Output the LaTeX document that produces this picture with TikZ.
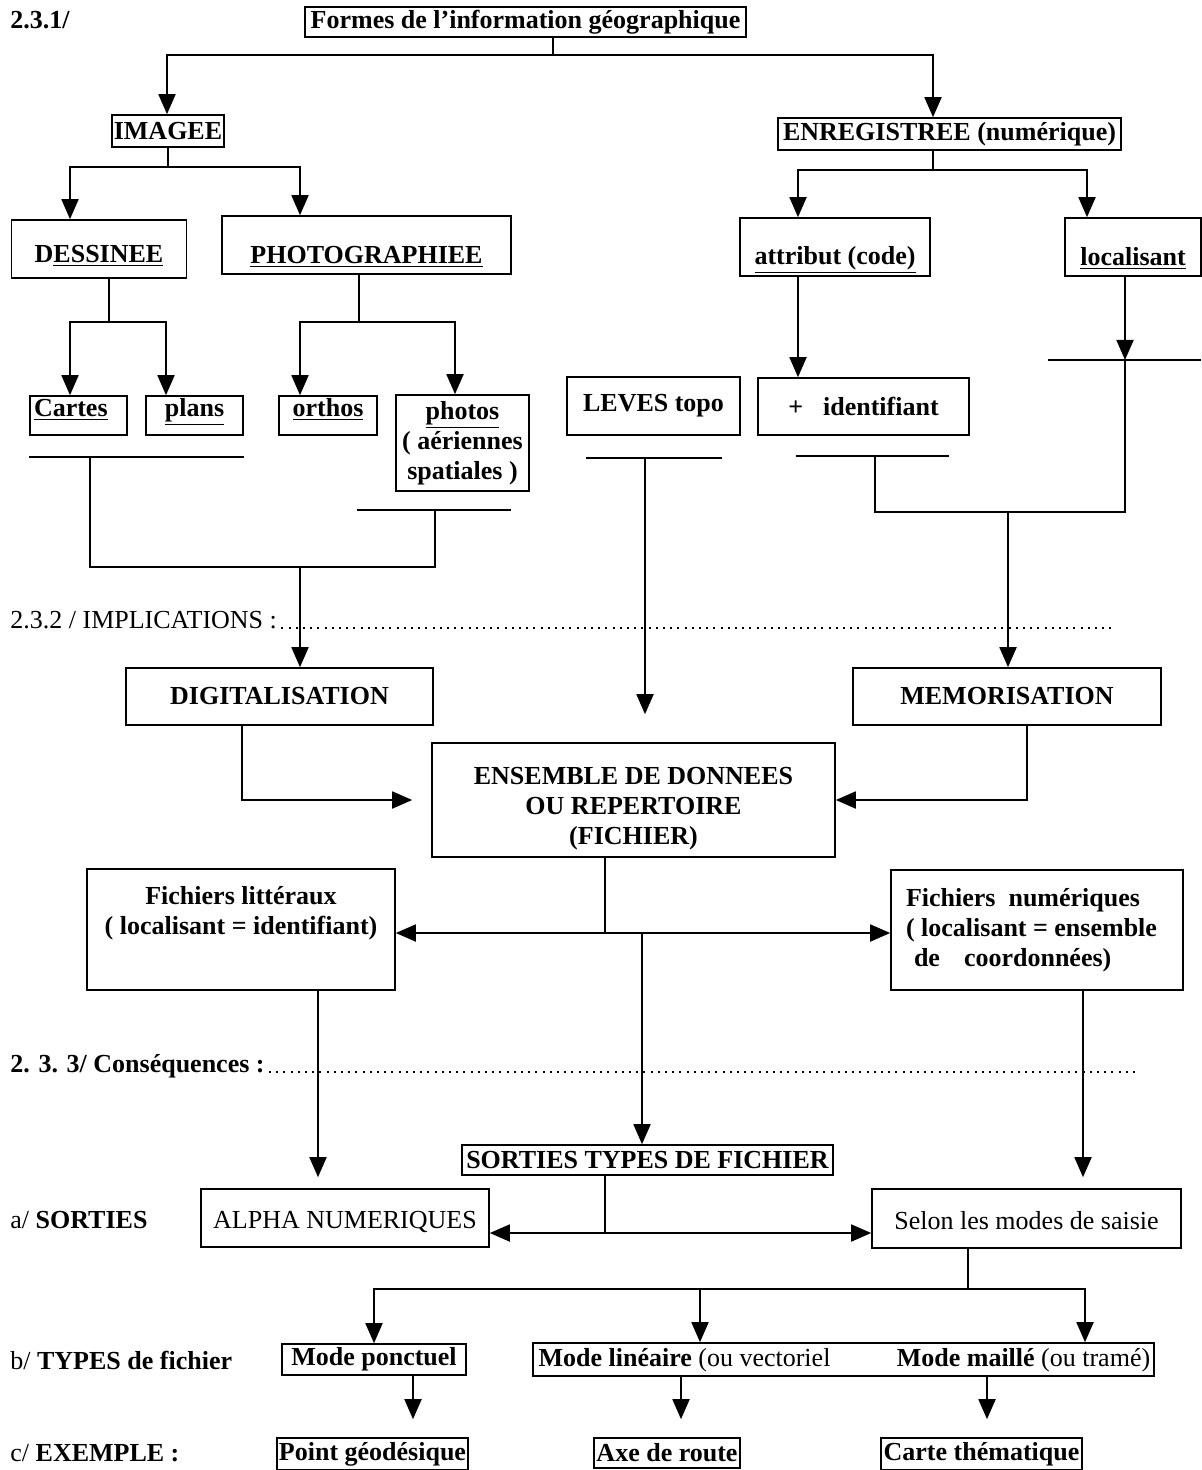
\documentclass[tikz,border=0pt]{standalone}
\usepackage{fontspec}
\setmainfont{Liberation Serif}
\usetikzlibrary{arrows.meta}
\newcommand{\bigfont}{\fontsize{13pt}{15pt}\selectfont}

\begin{document}
\begin{tikzpicture}[x=0.5pt, y=-0.5pt,
    box/.style={rectangle, draw, line width=0.8pt, inner sep=0pt, align=center, font=\bigfont\bfseries},
    plainbox/.style={rectangle, draw, line width=0.8pt, inner sep=0pt, align=center, font=\bigfont},
    topbox/.style={text height=10pt, text depth=9.5pt},
    sect/.style={inner sep=0pt, font=\bigfont},
    arr/.style={-{Triangle[length=10pt, width=8.5pt]}, line width=0.9pt},
    link/.style={line width=0.9pt},
    leader/.style={line width=1pt, dash pattern=on 1pt off 2.6pt}
]
    \useasboundingbox (0,0) rectangle (1201,1470);

    \node[sect, anchor=west] (n231) at (10,20) {\bfseries 2.3.1/};
    \node[box, minimum width=220.5pt, minimum height=15pt] (forms) at (525.5,22) {Formes de l'information géographique};
    \node[box, minimum width=56pt, minimum height=16pt] (imagee) at (168,131) {IMAGEE};
    \node[box, minimum width=171.5pt, minimum height=16pt] (enreg) at (949.5,134) {ENREGISTREE (numérique)};
    \node[box, minimum width=87.5pt, text height=21.25pt, text depth=7.75pt] (dess) at (99,249) {D\underline{ESSINEE}};
    \node[box, minimum width=144.5pt, text height=23.75pt, text depth=5.25pt] (photo) at (366.5,245) {\underline{PHOTOGRAPHIEE}};
    \node[box, minimum width=95pt, text height=23.25pt, text depth=5.75pt] (attr) at (835,247) {\underline{attribut (code)}};
    \node[box, minimum width=68pt, text height=23.75pt, text depth=5.25pt] (loc) at (1133,247) {\underline{localisant}};

    \node[box, topbox, text width=44.5pt, inner xsep=2pt, align=left] (cartes) at (78.5,415.5) {\underline{Cartes}};
    \node[box, topbox, minimum width=48.5pt] (plans) at (194.5,415.5) {\underline{plans}};
    \node[box, topbox, minimum width=49pt] (orthos) at (328,415.5) {\underline{orthos}};
    \node[box, minimum width=66.5pt, minimum height=48pt] (photos) at (462.5,443) {\underline{photos}\\( aériennes\\spatiales )};
    \node[box, minimum width=86.5pt, minimum height=29pt] (leves) at (653.5,406) {LEVES topo};
    \node[box, minimum width=105.5pt, minimum height=28.5pt] (ident) at (863.5,406.5) {+\hspace{10pt}identifiant};

    \node[sect, anchor=west] (impl) at (10,620) {2.3.2 / IMPLICATIONS :};
    \node[box, minimum width=153.5pt, minimum height=28.5pt] (digit) at (279.5,696.5) {DIGITALISATION};
    \node[box, minimum width=154pt, minimum height=28.5pt] (memo) at (1007,696.5) {MEMORISATION};
    \node[box, minimum width=201.5pt, minimum height=57pt] (ens) at (633.5,800) {\rule{0pt}{17pt}ENSEMBLE DE DONNEES\\OU REPERTOIRE\\(FICHIER)};
    \node[box, minimum width=154pt, minimum height=60.5pt] (litt) at (241,929.5) {Fichiers littéraux\\( localisant = identifiant)\\\strut};
    \node[box, text width=131pt, inner xsep=7.5pt, align=flush left, minimum height=60pt] (num) at (1037,930) {Fichiers\ \ numériques\\( localisant = ensemble\\\hspace{4pt}de\hspace{12pt}coordonnées)};

    \node[sect, anchor=west] (cons) at (10,1066) {\bfseries 2. 3. 3/ Conséquences :};
    \node[box, minimum width=185.5pt, minimum height=15pt] (sort) at (647.5,1160) {SORTIES TYPES DE FICHIER};
    \node[sect, anchor=west] (sa) at (10,1220) {a/ \textbf{SORTIES}};
    \node[plainbox, minimum width=144pt, text height=19.5pt, text depth=9.5pt] (alpha) at (345,1218) {ALPHA NUMERIQUES};
    \node[plainbox, minimum width=154.5pt, text height=20pt, text depth=9.5pt] (selon) at (1026.5,1218.5) {Selon les modes de saisie};

    \node[sect, anchor=west] (sb) at (10,1360) {b/ \textbf{TYPES de fichier}};
    \node[box, minimum width=92pt, minimum height=15.5pt] (ponct) at (374,1359.5) {Mode ponctuel};
    \node[box, minimum width=310.5pt, minimum height=16.5pt] (modes) at (843.5,1359.5) {};
    \node[sect] (lin) at (684.5,1360) {\textbf{Mode linéaire} (ou vectoriel};
    \node[sect] (mail) at (1023.5,1360) {\textbf{Mode maillé} (ou tramé)};

    \node[sect, anchor=west] (sc) at (10,1453) {c/ \textbf{EXEMPLE :}};
    \node[box, minimum width=95.5pt, minimum height=16pt] (point) at (372.5,1454) {Point géodésique};
    \node[box, minimum width=73pt, minimum height=15pt] (axe) at (667,1453) {Axe de route};
    \node[box, minimum width=100.5pt, minimum height=16pt] (carte) at (981.5,1454) {Carte thématique};

    \coordinate (f1) at (553,55);
    \draw[link] ([xshift=13.75pt]forms.south) -- (f1);
    \draw[arr] (f1) -| ([xshift=-0.5pt]imagee.north);
    \draw[arr] (f1) -| ([xshift=-8.25pt]enreg.north);

    \coordinate (f2) at (168,167);
    \draw[link] (imagee.south) -- (f2);
    \draw[arr] (f2) -| ([xshift=-14.5pt]dess.north);
    \draw[arr] (f2) -| ([xshift=-33.25pt]photo.north);

    \coordinate (f3) at (933,170);
    \draw[link] ([xshift=-8.25pt]enreg.south) -- (f3);
    \draw[arr] (f3) -| ([xshift=-18.5pt]attr.north);
    \draw[arr] (f3) -| ([xshift=-23pt]loc.north);

    \coordinate (f4) at (109,322);
    \draw[link] ([xshift=5pt]dess.south) -- (f4);
    \draw[arr] (f4) -| ([xshift=-4.25pt]cartes.north);
    \draw[arr] (f4) -| ([xshift=-14.25pt]plans.north);

    \coordinate (f5) at (359,322);
    \draw[link] ([xshift=-3.75pt]photo.south) -- (f5);
    \draw[arr] (f5) -| ([xshift=-14pt]orthos.north);
    \draw[arr] (f5) -| ([xshift=-3.75pt]photos.north);

    \draw[arr] ([xshift=-18.5pt]attr.south) -- ([xshift=-32.75pt]ident.north);

    \coordinate (f6) at (1125,360);
    \draw[arr] ([xshift=-4pt]loc.south) -- (f6);
    \draw[link] ([xshift=-38.5pt]f6) -- ([xshift=38pt]f6);

    \coordinate (b1) at (90,456);
    \coordinate (b2) at (435,510);
    \coordinate (b3) at (645,457);
    \coordinate (b4) at (875,455);
    \draw[link] ([yshift=-10.5pt]cartes.south west) -- ([yshift=-10.5pt]plans.south east);
    \draw[link] ([shift={(-19pt,-9pt)}]photos.south west) -- ([shift={(-9.5pt,-9pt)}]photos.south east);
    \draw[link] ([shift={(10pt,-11pt)}]leves.south west) -- ([shift={(-9.5pt,-11pt)}]leves.south east);
    \draw[link] ([shift={(19.5pt,-10pt)}]ident.south west) -- ([shift={(-10.5pt,-10pt)}]ident.south east);

    \coordinate (j1) at (300,567);
    \draw[link] (b1) |- (b2 |- j1) -- (b2);
    \draw[arr] (j1) -- (digit.north -| j1);
    \draw[arr, shorten >=14pt] (b3) -- (b3 |- ens.north);
    \coordinate (j2) at (1008,512);
    \draw[link] (b4) |- (f6 |- j2) -- (f6);
    \draw[arr] (j2) -- (memo.north -| j2);

    \coordinate (d1) at (1115,0);
    \draw[leader] ([xshift=2pt]impl.base east) -- (impl.base east -| d1);
    \coordinate (d2) at (1140,0);
    \draw[leader] ([xshift=2pt]cons.base east) -- (cons.base east -| d2);

    \draw[arr, shorten >=9.5pt] ([xshift=-18.75pt]digit.south) |- (ens.west);
    \draw[arr] ([xshift=10pt]memo.south) |- (ens.east);

    \coordinate (j3) at (605,933);
    \coordinate (j4) at (642,933);
    \draw[link] ([xshift=-14.25pt]ens.south) -- (j3);
    \draw[arr] (j3) -- (litt.east |- j3);
    \draw[arr] (j3) -- (num.west |- j3);
    \draw[arr] (j4) -- (sort.north -| j4);

    \coordinate (s1) at ([xshift=38.5pt]litt.south);
    \draw[arr, shorten >=5.5pt] (s1) -- (s1 |- alpha.north);
    \coordinate (s2) at ([xshift=23pt]num.south);
    \draw[arr, shorten >=5.5pt] (s2) -- (s2 |- selon.north);

    \coordinate (j5) at (605,1233);
    \draw[link] ([xshift=-21.25pt]sort.south) -- (j5);
    \draw[arr] (j5) -- (alpha.east |- j5);
    \draw[arr] (j5) -- (selon.west |- j5);

    \coordinate (j6) at (968,1289);
    \draw[link] ([xshift=-29.25pt]selon.south) -- (j6);
    \draw[arr] (j6) -| (ponct.north);
    \draw[arr] (j6) -| ([xshift=-71.75pt]modes.north);
    \draw[arr] (j6) -| ([xshift=120.75pt]modes.north);

    \coordinate (s3) at ([xshift=19.5pt]ponct.south);
    \draw[arr, shorten >=9pt] (s3) -- (s3 |- point.north);
    \coordinate (s4) at ([xshift=-81.25pt]modes.south);
    \draw[arr, shorten >=9pt] (s4) -- (s4 |- axe.north);
    \coordinate (s5) at ([xshift=71.75pt]modes.south);
    \draw[arr, shorten >=9pt] (s5) -- (s5 |- carte.north);
\end{tikzpicture}
\end{document}
